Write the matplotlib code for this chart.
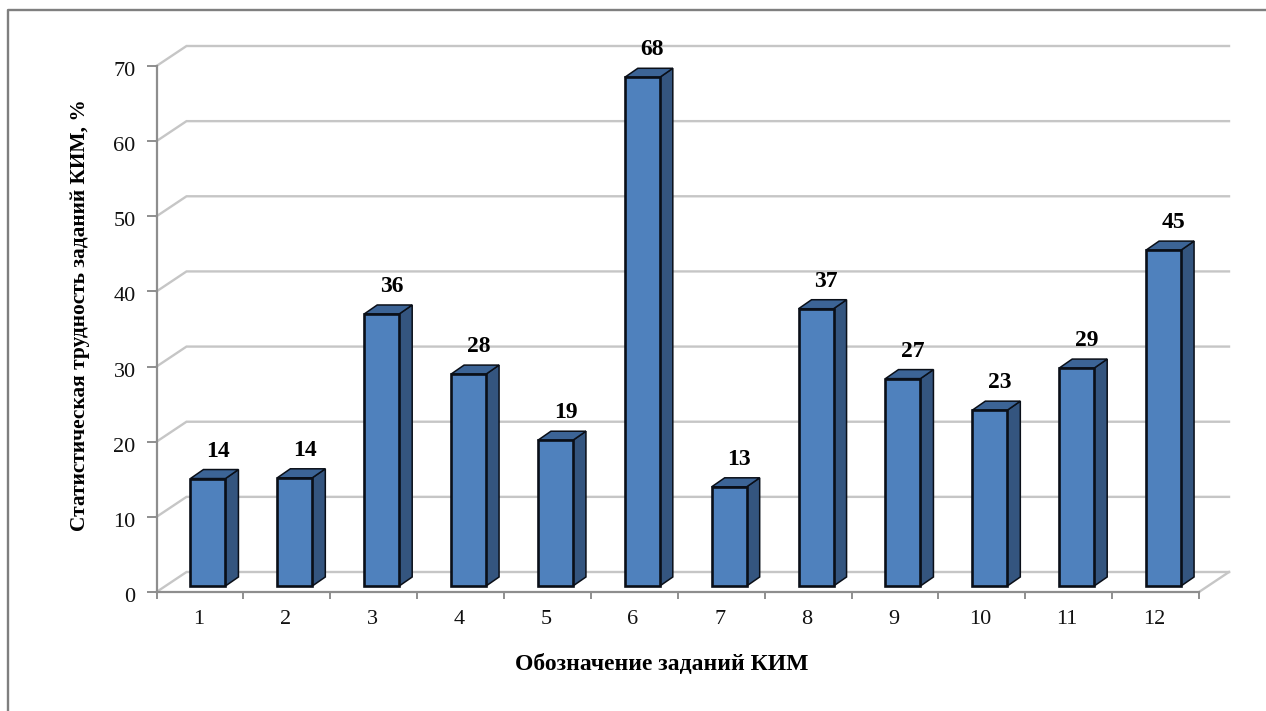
#!/usr/bin/env python3
"""Pseudo-3D column chart of KIM task difficulty."""

import matplotlib
matplotlib.use("Agg")
import matplotlib.pyplot as plt
from matplotlib.patches import Polygon
from matplotlib.transforms import ScaledTranslation

W, H = 1266, 711

tasks = ["1", "2", "3", "4", "5", "6", "7", "8", "9", "10", "11", "12"]
values = [14.3, 14.4, 36.2, 28.2, 19.4, 67.7, 13.2, 36.9, 27.6, 23.4, 29.0, 44.7]
labels = ["14", "14", "36", "28", "19", "68", "13", "37", "27", "23", "29", "45"]
y_ticks = [0, 10, 20, 30, 40, 50, 60, 70]

plt.rcParams["font.family"] = ["Liberation Serif", "DejaVu Serif"]

fig = plt.figure(figsize=(W / 100, H / 100), dpi=100)

# front plane of the 3D box, in pixels
left, right, bottom, top = 156.5, 1199, 592, 66
ax = fig.add_axes([left / W, 1 - bottom / H, (right - left) / W, (bottom - top) / H])
ax.set_xlim(0, 12)
ax.set_ylim(0, 70)
ax.patch.set_visible(False)

# pixel sizes converted to data units
px_x = 12 / (right - left)
px_y = 70 / (bottom - top)
depth_x, depth_y = 30 * px_x, 20 * px_y

GRID = "#c6c6c6"
AXIS = "#8e8e8e"

for t in y_ticks:
    ax.plot([0, depth_x, 12 + depth_x], [t, t + depth_y, t + depth_y],
            color=GRID, lw=1.7, clip_on=False, zorder=1, solid_joinstyle="miter")
ax.plot([12, 12 + depth_x], [0, depth_y], color=GRID, lw=1.7, clip_on=False, zorder=1)

for s in ["top", "right"]:
    ax.spines[s].set_visible(False)
for s in ["left", "bottom"]:
    ax.spines[s].set_color(AXIS)
    ax.spines[s].set_linewidth(1.6)
    ax.spines[s].set_zorder(2)

ax.set_yticks(y_ticks)
ax.set_xticks(range(13))
ax.set_xticklabels([])
ax.tick_params(axis="y", length=7, width=1.4, color=AXIS, labelsize=16, pad=8, labelcolor="#111111")
ax.tick_params(axis="x", length=5, width=1.4, color=AXIS)
# the reference sits its value labels a little under the tick
shift_down = ScaledTranslation(0, -3 / 100, fig.dpi_scale_trans)
for lab in ax.get_yticklabels():
    lab.set_transform(lab.get_transform() + shift_down)

# bar geometry: front face sits 8,6 px inside the box, 13,9 px deep
bar_w = 35 * px_x
off_x, off_y = 8 * px_x, 6 * px_y
d_x, d_y = 13 * px_x, 9 * px_y
FRONT = "#4f81bd"
SIDE = "#34557f"
TOP = "#3c6496"
EDGE = "#0a0f18"

for i, (v, lab, name) in enumerate(zip(values, labels, tasks)):
    x0 = i + 0.5 - bar_w / 2 + off_x
    x1 = x0 + bar_w
    y0 = off_y
    y1 = v + off_y
    front = [(x0, y0), (x1, y0), (x1, y1), (x0, y1)]
    side = [(x1, y0), (x1 + d_x, y0 + d_y), (x1 + d_x, y1 + d_y), (x1, y1)]
    roof = [(x0, y1), (x1, y1), (x1 + d_x, y1 + d_y), (x0 + d_x, y1 + d_y)]
    ax.add_patch(Polygon(side, fc=SIDE, ec=EDGE, lw=1.1, clip_on=False, zorder=3))
    ax.add_patch(Polygon(roof, fc=TOP, ec=EDGE, lw=1.1, clip_on=False, zorder=3))
    ax.add_patch(Polygon(front, fc=FRONT, ec=EDGE, lw=1.9, clip_on=False, zorder=4))
    ax.text(i + 0.5 + 18 * px_x, y1 + d_y + 18.5 * px_y, lab, ha="center", va="center",
            fontsize=17, fontweight="bold", color="black", clip_on=False, zorder=5)
    ax.text(i + 0.5 - 1.5 * px_x, -27 * px_y, name, ha="center", va="center",
            fontsize=16, color="#111111", clip_on=False)

fig.text(662 / W, 1 - 665 / H, "Обозначение заданий КИМ", ha="center", va="center",
         fontsize=17, fontweight="bold")
fig.text(80 / W, 1 - 315 / H, "Статистическая трудность заданий КИМ, %", ha="center",
         va="center", rotation=90, fontsize=15.4, fontweight="bold")

# chart frame, only partly inside the crop
fig.add_artist(plt.Line2D([8 / W, 8 / W, 1], [0, 1 - 10 / H, 1 - 10 / H],
                          color="#7f7f7f", lw=1.7))

fig.savefig("out.png", dpi=100)
